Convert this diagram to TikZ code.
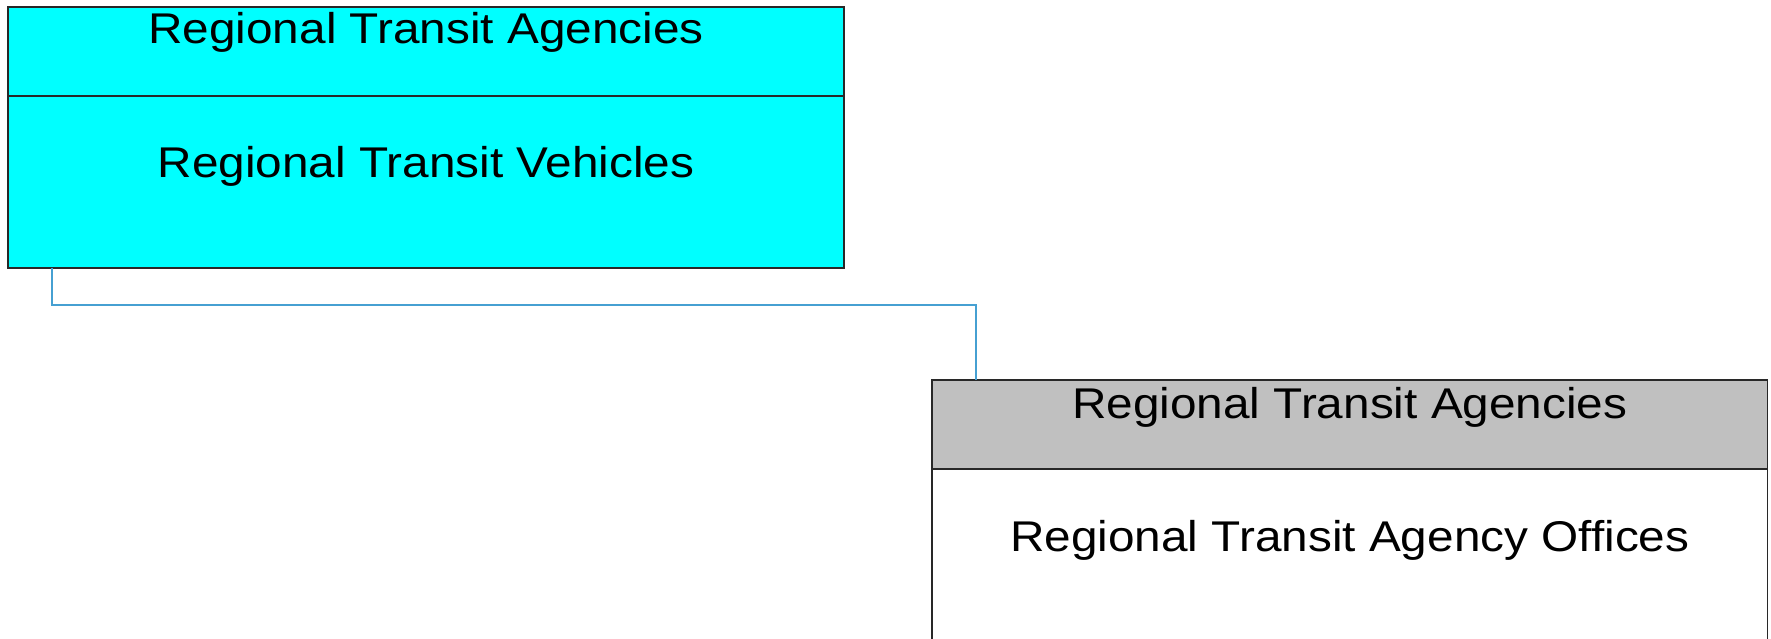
\documentclass[tikz,border=0pt]{standalone}
\usepackage{fontspec}
\newfontfamily\labfont[FakeStretch=1.11]{Liberation Sans}
\definecolor{cyanfill}{RGB}{0,255,255}
\definecolor{grayfill}{RGB}{192,192,192}
\definecolor{connblue}{RGB}{70,160,210}
\definecolor{edge}{RGB}{40,40,40}
\tikzset{
  boxpart/.style={draw=edge, line width=1.1pt, inner sep=0pt, outer sep=0pt, anchor=north west},
  lab/.style={anchor=base, inner sep=0pt, font=\labfont\fontsize{43}{48}\selectfont},
  conn/.style={draw=connblue, line width=1.1pt}
}
\begin{document}
\begin{tikzpicture}[x=1pt,y=-1pt]
\useasboundingbox (0,0) rectangle (1771,639);
% box 1
\node[boxpart, fill=cyanfill, minimum width=836pt, minimum height=89pt] (b1h) at (8,7) {};
\node[boxpart, fill=cyanfill, minimum width=836pt, minimum height=172pt] (b1b) at (8,96) {};
% box 2
\node[boxpart, fill=grayfill, minimum width=835.5pt, minimum height=89pt] (b2h) at (932,380) {};
\node[boxpart, fill=white, minimum width=835.5pt, minimum height=175pt] (b2b) at (932,469) {};
% labels
\node[lab] (t1h) at ([yshift=-36.5pt]b1h.north) {Regional Transit Agencies};
\node[lab] (t1b) at ([yshift=-82pt]b1b.north) {Regional Transit Vehicles};
\node[lab] (t2h) at ([yshift=-38pt]b2h.north) {Regional Transit Agencies};
\node[lab] (t2b) at ([yshift=-82pt]b2b.north) {Regional Transit Agency Offices};
% connector
\draw[conn] ([xshift=44pt]b1b.south west) -- ++(0,37) -| ([xshift=44pt]b2h.north west);
\end{tikzpicture}
\end{document}
